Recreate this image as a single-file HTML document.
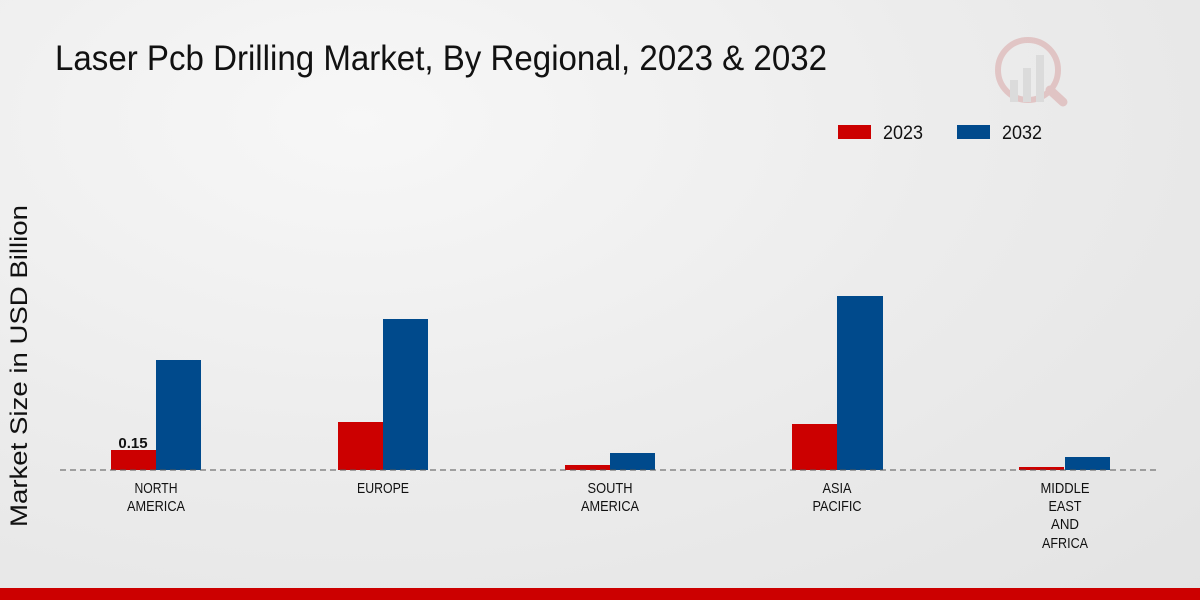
<!DOCTYPE html>
<html><head><meta charset="utf-8"><style>
html,body{margin:0;padding:0;}
body{width:1200px;height:600px;overflow:hidden;background:radial-gradient(ellipse at 30% 20%,#f7f7f7 0%,#ececec 50%,#e3e3e3 100%);font-family:"Liberation Sans",sans-serif;position:relative;}
</style></head><body>
<svg width="1200" height="600" style="position:absolute;left:0;top:0">
<text x="55" y="70" font-size="35" fill="#111" textLength="772" lengthAdjust="spacingAndGlyphs">Laser Pcb Drilling Market, By Regional, 2023 &amp; 2032</text>
<g opacity="0.35">
<circle cx="1028" cy="70" r="30" fill="none" stroke="#d08080" stroke-width="6"/>
<rect x="1010" y="80" width="8" height="22" fill="#c0c0c0"/>
<rect x="1023" y="68" width="8" height="34" fill="#c0c0c0"/>
<rect x="1036" y="55" width="8" height="47" fill="#c0c0c0"/>
<line x1="1050" y1="90" x2="1063" y2="102" stroke="#d08080" stroke-width="9" stroke-linecap="round"/>
</g>
<rect x="838" y="125" width="33" height="14" fill="#cc0000"/>
<text x="883" y="139" font-size="19" fill="#111" textLength="40" lengthAdjust="spacingAndGlyphs">2023</text>
<rect x="957" y="125" width="33" height="14" fill="#004a8c"/>
<text x="1002" y="139" font-size="19" fill="#111" textLength="40" lengthAdjust="spacingAndGlyphs">2032</text>
<text transform="translate(27,366) rotate(-90)" text-anchor="middle" font-size="24" fill="#111" textLength="322" lengthAdjust="spacingAndGlyphs">Market Size in USD Billion</text>
<g fill="#cc0000">
<rect x="111" y="450" width="45" height="20"/>
<rect x="338" y="422" width="45" height="48"/>
<rect x="565" y="465" width="45" height="5"/>
<rect x="792" y="424" width="45" height="46"/>
<rect x="1019" y="467" width="45" height="3"/>
</g>
<g fill="#004a8c">
<rect x="156" y="360" width="45" height="110"/>
<rect x="383" y="319" width="45" height="151"/>
<rect x="610" y="453" width="45" height="17"/>
<rect x="837" y="296" width="46" height="174"/>
<rect x="1065" y="457" width="45" height="13"/>
</g>
<line x1="60" y1="470" x2="1160" y2="470" stroke="#555" stroke-width="1" stroke-dasharray="6,4"/>
<text x="133" y="448" text-anchor="middle" font-size="15" font-weight="bold" fill="#111">0.15</text>
<g font-size="15" fill="#111" text-anchor="middle" lengthAdjust="spacingAndGlyphs">
<text x="156" y="493" textLength="43" lengthAdjust="spacingAndGlyphs">NORTH</text><text x="156" y="511" textLength="58" lengthAdjust="spacingAndGlyphs">AMERICA</text>
<text x="383" y="493" textLength="52" lengthAdjust="spacingAndGlyphs">EUROPE</text>
<text x="610" y="493" textLength="45" lengthAdjust="spacingAndGlyphs">SOUTH</text><text x="610" y="511" textLength="58" lengthAdjust="spacingAndGlyphs">AMERICA</text>
<text x="837" y="493" textLength="29" lengthAdjust="spacingAndGlyphs">ASIA</text><text x="837" y="511" textLength="49" lengthAdjust="spacingAndGlyphs">PACIFIC</text>
<text x="1065" y="493" textLength="49" lengthAdjust="spacingAndGlyphs">MIDDLE</text><text x="1065" y="511" textLength="33" lengthAdjust="spacingAndGlyphs">EAST</text><text x="1065" y="529" textLength="28" lengthAdjust="spacingAndGlyphs">AND</text><text x="1065" y="548" textLength="46" lengthAdjust="spacingAndGlyphs">AFRICA</text>
</g>
<rect x="0" y="588" width="1200" height="12" fill="#cc0000"/>
</svg>
</body></html>
